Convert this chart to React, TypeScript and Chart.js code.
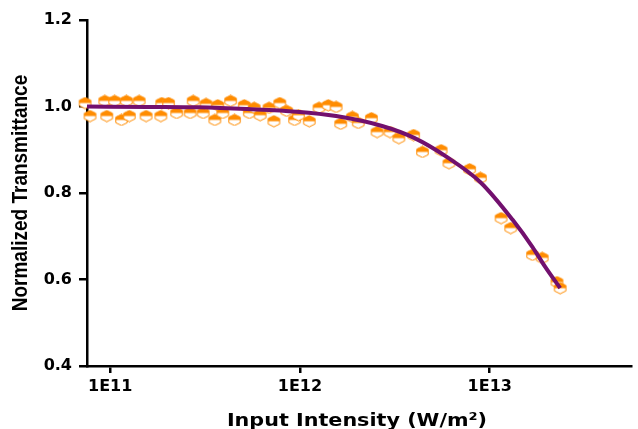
import React, { useEffect, useRef } from "react";
import { Chart, registerables } from "chart.js";

Chart.register(...registerables);

// Measured data points (Input intensity in W/m^2, normalized transmittance)
const intensity = [
  7.11e10, 7.38e10, 7.83e10, 9.37e10, 9.6e10, 1.055e11, 1.147e11, 1.218e11, 1.262e11, 1.422e11,
  1.546e11, 1.849e11, 1.871e11, 2.03e11, 2.24e11, 2.64e11, 2.74e11, 3.09e11, 3.2e11, 3.56e11,
  3.69e11, 3.92e11, 4.31e11, 4.52e11, 5.09e11, 5.41e11, 5.74e11, 6.17e11, 6.87e11, 7.29e11,
  7.83e11, 8.51e11, 9.37e11, 9.83e11, 1.12e12, 1.26e12, 1.41e12, 1.55e12, 1.64e12, 1.89e12,
  2.03e12, 2.38e12, 2.55e12, 2.98e12, 3.32e12, 3.97e12, 4.42e12, 5.54e12, 6.1e12, 7.83e12,
  8.93e12, 1.148e13, 1.29e13, 1.68e13, 1.89e13, 2.26e13, 2.35e13,
];
const transmittance = [
  0.999, 1.008, 0.978, 1.013, 0.978, 1.013, 0.969, 1.013, 0.978, 1.013,
  0.978, 0.978, 1.008, 1.008, 0.985, 0.985, 1.013, 0.985, 1.006, 0.969,
  1.003, 0.985, 1.013, 0.969, 1.003, 0.985, 0.997, 0.98, 0.997, 0.966,
  1.008, 0.99, 0.969, 0.98, 0.966, 0.997, 1.003, 0.999, 0.96, 0.976,
  0.962, 0.973, 0.941, 0.941, 0.927, 0.934, 0.895, 0.899, 0.869, 0.855,
  0.835, 0.742, 0.719, 0.657, 0.65, 0.594, 0.58,
];

// Fitted curve
const fitIntensity = [
  7.55e10, 1.6e11, 2.91e11, 5.28e11, 9.59e11, 1.55e12, 2.71e12, 4.02e12, 5.96e12, 8.93e12,
  1.32e13, 1.68e13, 1.96e13, 2.35e13,
];
const fitTransmittance = [
  1.0, 0.999, 0.998, 0.994, 0.988, 0.978, 0.955, 0.927, 0.883, 0.825,
  0.738, 0.675, 0.629, 0.58,
];

const xTickValues = [1e11, 1e12, 1e13];
const xMin = 7.55e10;
const xMax = 5.55e13;
const yMin = 0.4;
const yMax = 1.2;
const yStep = 0.2;

const xTitle = "Input Intensity (W/m²)";
const yTitle = "Normalized Transmittance";

const ORANGE = "#FF8C00";
const PURPLE = "#72106E";

function makeHexagon(): HTMLCanvasElement {
  const c = document.createElement("canvas");
  const w = 15;
  const h = 13;
  c.width = w;
  c.height = h;
  const g = c.getContext("2d")!;
  const cx = w / 2;
  const cy = h / 2;
  const rx = 6.6;
  const ry = 5.6;
  const path = () => {
    g.beginPath();
    for (let i = 0; i < 6; i++) {
      const a = ((-90 + 60 * i) * Math.PI) / 180;
      const x = cx + rx * Math.cos(a);
      const y = cy + ry * Math.sin(a);
      if (i === 0) g.moveTo(x, y);
      else g.lineTo(x, y);
    }
    g.closePath();
  };
  g.fillStyle = "#ffffff";
  path();
  g.fill();
  g.save();
  g.beginPath();
  g.rect(0, 0, w, cy);
  g.clip();
  g.fillStyle = ORANGE;
  path();
  g.fill();
  g.restore();
  g.strokeStyle = ORANGE;
  g.lineWidth = 1;
  path();
  g.stroke();
  return c;
}

const titlesPlugin = {
  id: "axisTitles",
  afterDraw(chart: any) {
    const ctx = chart.ctx as CanvasRenderingContext2D;
    const ca = chart.chartArea;
    ctx.save();
    ctx.fillStyle = "#000";
    ctx.font = 'bold 18px "DejaVu Sans"';
    ctx.textAlign = "center";
    ctx.textBaseline = "alphabetic";
    ctx.translate((ca.left + ca.right) / 2 - 2, 426);
    ctx.scale(1.15, 1);
    ctx.fillText(xTitle, 0, 0);
    ctx.restore();

    ctx.save();
    ctx.fillStyle = "#000";
    ctx.font = 'bold 19px "Liberation Sans"';
    ctx.textAlign = "center";
    ctx.textBaseline = "middle";
    ctx.translate(21, (ca.top + ca.bottom) / 2);
    ctx.rotate(-Math.PI / 2);
    ctx.scale(1, 1.2);
    ctx.fillText(yTitle, 0, 0);
    ctx.restore();
  },
};

export default function App() {
  const ref = useRef<HTMLCanvasElement | null>(null);

  useEffect(() => {
    if (!ref.current) return;
    const hex = makeHexagon();
    const points = intensity.map((x, i) => ({ x, y: transmittance[i] }));
    const fit = fitIntensity.map((x, i) => ({ x, y: fitTransmittance[i] }));
    const tickFont = { family: '"DejaVu Sans"', size: 16, weight: "bold" as const };

    const chart = new Chart(ref.current, {
      type: "scatter",
      data: {
        datasets: [
          {
            label: "Fit",
            data: fit,
            showLine: true,
            borderColor: PURPLE,
            borderWidth: 4,
            pointRadius: 0,
            cubicInterpolationMode: "monotone",
            order: 0,
            clip: false as any,
          },
          {
            label: "Data",
            data: points,
            pointStyle: hex as any,
            pointRadius: 6,
            order: 1,
            clip: false as any,
          },
        ],
      },
      options: {
        animation: false,
        responsive: true,
        maintainAspectRatio: false,
        layout: { padding: { top: 20, right: 0, left: 0, bottom: 0 } },
        plugins: {
          legend: { display: false },
          tooltip: { enabled: false },
        },
        scales: {
          x: {
            type: "logarithmic",
            min: xMin,
            max: xMax,
            afterBuildTicks: (scale: any) => {
              scale.ticks = xTickValues.map((v) => ({ value: v }));
            },
            afterFit: (scale: any) => {
              scale.height = 63;
            },
            ticks: {
              color: "#000",
              font: tickFont,
              padding: 4,
              maxRotation: 0,
              autoSkip: false,
              callback: (v: any) => "1E" + Math.round(Math.log10(Number(v))),
            },
            grid: {
              display: true,
              drawOnChartArea: false,
              drawTicks: true,
              tickLength: 7,
              color: "#000",
              lineWidth: 2.5,
            },
            border: { display: true, color: "#000", width: 2.5 },
          },
          y: {
            type: "linear",
            min: yMin,
            max: yMax,
            afterFit: (scale: any) => {
              scale.width = 87;
            },
            ticks: {
              stepSize: yStep,
              color: "#000",
              font: tickFont,
              padding: 7,
              callback: (v: any) => Number(v).toFixed(1),
            },
            grid: {
              display: true,
              drawOnChartArea: false,
              drawTicks: true,
              tickLength: 8,
              color: "#000",
              lineWidth: 2.5,
            },
            border: { display: true, color: "#000", width: 2.5 },
          },
        },
      },
      plugins: [titlesPlugin],
    });
    return () => chart.destroy();
  }, []);

  return (
    <div
      style={{
        position: "fixed",
        left: 0,
        top: 0,
        width: 638,
        height: 429,
        background: "#fff",
      }}
    >
      <canvas ref={ref} />
    </div>
  );
}
